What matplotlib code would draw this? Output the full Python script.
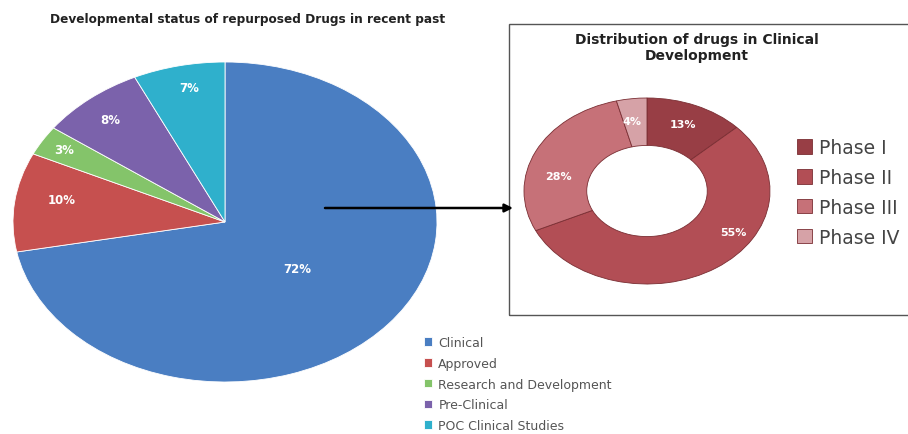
import matplotlib
matplotlib.use('Agg')
import matplotlib.pyplot as plt
from matplotlib.patches import Rectangle, FancyArrowPatch

# main pie data
status_labels = ['Clinical', 'Approved', 'Research and Development', 'Pre-Clinical', 'POC Clinical Studies']
status_values = [72, 10, 3, 8, 7]
status_colors = ['#4A7EC2', '#C6504F', '#84C46A', '#7B62AB', '#2FB0CC']

# donut data
phase_labels = ['Phase I', 'Phase II', 'Phase III', 'Phase IV']
phase_values = [13, 55, 28, 4]
phase_colors = ['#983E45', '#B24E55', '#C67178', '#D6A2A7']

W, H = 908, 435
fig = plt.figure(figsize=(W / 100, H / 100), dpi=100)
fig.patch.set_facecolor('white')


def px_axes(left, top, right, bottom):
    # axes from pixel box (y measured from top)
    return fig.add_axes([left / W, 1 - bottom / H, (right - left) / W, (bottom - top) / H])


# ---- main pie (elliptical as in the source picture)
ax1 = px_axes(13, 63, 437, 383)
wedges, _, autot = ax1.pie(status_values, colors=status_colors, startangle=90, counterclock=False,
                           autopct='%d%%', pctdistance=0.8,
                           wedgeprops=dict(edgecolor='white', linewidth=0.6),
                           textprops=dict(color='white', fontsize=8.5, fontweight='bold'))
ax1.set_aspect('auto')
ax1.set_xlim(-1, 1)
ax1.set_ylim(-1, 1)
# label offsets to mimic the excel placement
main_label_xy = [(0.34, -0.29), (-0.77, 0.14), (-0.76, 0.45), (-0.54, 0.64), (-0.17, 0.84)]
for t, xy in zip(autot, main_label_xy):
    t.set_position(xy)

fig.text(50 / W, 1 - 19 / H, 'Developmental status of repurposed Drugs in recent past',
         fontsize=8.7, fontweight='bold', color='#222222', va='center', ha='left')

# bottom legend
leg1 = fig.legend(wedges, status_labels, loc='upper left', bbox_to_anchor=(424 / W, 1 - 337 / H),
                  frameon=False, fontsize=9, handlelength=0.65, handleheight=0.65,
                  handletextpad=0.5, labelspacing=0.62, borderaxespad=0, borderpad=0)
for t in leg1.get_texts():
    t.set_color('#555555')

# ---- box with donut
fig.patches.append(Rectangle((509 / W, 1 - 316 / H), 420 / W, 291 / H, transform=fig.transFigure,
                             fill=False, edgecolor='#555555', linewidth=1.0))

ax2 = px_axes(524, 99, 770, 285)
wedges2, _, autot2 = ax2.pie(phase_values, colors=phase_colors, startangle=90, counterclock=False,
                             autopct='%d%%', pctdistance=0.78,
                             wedgeprops=dict(width=0.51, edgecolor='#7A2E33', linewidth=0.6),
                             textprops=dict(color='white', fontsize=8, fontweight='bold'))
ax2.set_aspect('auto')
ax2.set_xlim(-1, 1)
ax2.set_ylim(-1, 1)
donut_label_xy = [(0.29, 0.72), (0.7, -0.44), (-0.72, 0.16), (-0.12, 0.75)]
for t, xy in zip(autot2, donut_label_xy):
    t.set_position(xy)

fig.text(697 / W, 1 - 48 / H, 'Distribution of drugs in Clinical\nDevelopment', fontsize=10,
         fontweight='bold', color='#222222', ha='center', va='center', linespacing=1.15)

leg2 = fig.legend(wedges2, phase_labels, loc='upper left', bbox_to_anchor=(797 / W, 1 - 139 / H),
                  frameon=False, fontsize=13.5, handlelength=0.8, handleheight=0.8,
                  handletextpad=0.35, labelspacing=0.58, borderaxespad=0, borderpad=0)
for t in leg2.get_texts():
    t.set_color('#444444')
for h in leg2.legend_handles:
    h.set_edgecolor('#7A2E33')

# arrow from main pie into the box
fig.patches.append(FancyArrowPatch((325 / W, 1 - 209 / H), (513 / W, 1 - 209 / H),
                                   transform=fig.transFigure, arrowstyle='-|>', mutation_scale=12,
                                   color='black', linewidth=1.8, shrinkA=0, shrinkB=0))

fig.savefig('out.png', dpi=100)
